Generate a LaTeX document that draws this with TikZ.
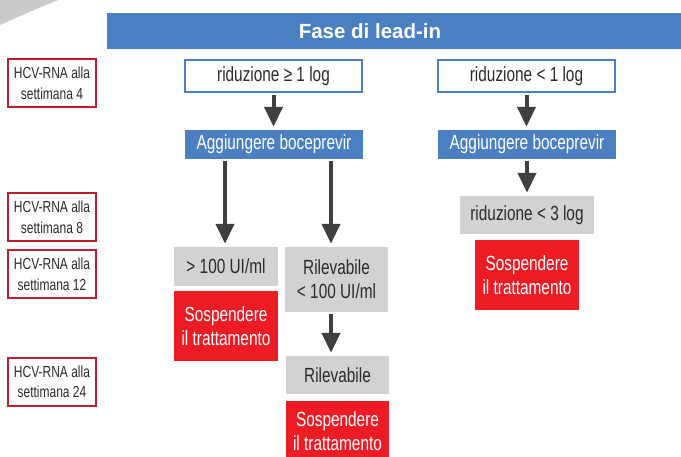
\documentclass[tikz,border=0pt]{standalone}
\usepackage{fontspec}
\setmainfont{Liberation Sans}[FakeStretch=0.75]
\newfontfamily\titlefont{Liberation Sans}
\usetikzlibrary{arrows.meta}
\definecolor{leadblue}{HTML}{4A7FC1}
\definecolor{stopred}{HTML}{ED1C24}
\definecolor{weekred}{HTML}{BE1E2D}
\definecolor{testgray}{HTML}{D1D2D4}
\definecolor{arcgray}{HTML}{C9CACC}
\definecolor{darktext}{HTML}{2B2B2B}
\definecolor{arrowgray}{HTML}{404040}
\tikzset{
    box/.style={inner sep=0pt, align=center, text=darktext, font=\fontsize{20.5}{24}\selectfont},
    titlebar/.style={fill=leadblue, inner sep=0pt, minimum width=574pt, minimum height=36pt},
    weekbox/.style={box, draw=weekred, line width=2pt, fill=white, minimum width=88pt, minimum height=48pt, font=\fontsize{16}{20.5}\selectfont},
    resbox/.style={box, draw=leadblue, line width=1.7pt, fill=white, minimum width=177pt, minimum height=32pt},
    addbox/.style={box, fill=leadblue, text=white, minimum width=178pt, minimum height=29pt},
    testbox/.style={box, fill=testgray},
    stopbox/.style={box, fill=stopred, text=white, minimum width=104pt, minimum height=70pt},
    flow/.style={arrowgray, line width=4pt, -{Triangle[width=18pt,length=20pt]}, shorten <=2pt, shorten >=3pt}
}
\begin{document}
\begin{tikzpicture}[x=1pt, y=-1pt]
    \useasboundingbox (0,0) rectangle (681,457);
    \fill[arcgray] (0,0) -- (0,25) .. controls (20,16.2) and (40,7.2) .. (58,0) -- cycle;

    \node[titlebar] (bar) at (394,31) {};
    \node[text=white, font=\titlefont\bfseries\fontsize{20.5}{24}\selectfont] (title) at (370,31) {Fase di lead-in};

    \node[weekbox] (w4) at (52,83.5) {HCV-RNA alla\\settimana 4};
    \node[weekbox] (w8) at (52,217.5) {HCV-RNA alla\\settimana 8};
    \node[weekbox] (w12) at (52,274.5) {HCV-RNA alla\\settimana 12};
    \node[weekbox] (w24) at (52,382) {HCV-RNA alla\\settimana 24};

    \node[resbox] (up) at (273.5,76) {riduzione ≥ 1 log};
    \node[resbox] (down) at (526.5,76) {riduzione < 1 log};
    \node[addbox] (addup) at (274,144.5) {Aggiungere boceprevir};
    \node[addbox] (adddown) at (527,144.5) {Aggiungere boceprevir};

    \node[testbox, minimum width=134pt, minimum height=38pt] (less3) at (527,215) {riduzione < 3 log};
    \node[stopbox] (stopdown) at (527,275.5) {Sospendere\\il trattamento};

    \node[testbox, minimum width=104pt, minimum height=39pt] (high) at (226,266.5) {> 100 UI/ml};
    \node[stopbox] (stophigh) at (226,326) {Sospendere\\il trattamento};
    \node[testbox, minimum width=103pt, minimum height=65pt] (low) at (336.5,279.5) {Rilevabile\\< 100 UI/ml};
    \node[testbox, minimum width=103pt, minimum height=38pt] (det) at (337.5,375) {Rilevabile};
    \node[stopbox, minimum width=103pt, minimum height=60pt, text depth=0pt] (stopdet) at (337.5,431) {Sospendere\\il trattamento};

    \draw[flow] (up.south) -- (up.south |- addup.north);
    \draw[flow] (down.south) -- (down.south |- adddown.north);
    \draw[flow] (adddown.south) -- (adddown.south |- less3.north);
    \draw[flow] ([xshift=-49pt]addup.south) -- ([xshift=-49pt]addup.south |- high.north);
    \draw[flow] ([xshift=57pt]addup.south) -- ([xshift=57pt]addup.south |- low.north);
    \draw[flow] ([xshift=-5.5pt]low.south) -- ([xshift=-5.5pt]low.south |- det.north);
\end{tikzpicture}
\end{document}
